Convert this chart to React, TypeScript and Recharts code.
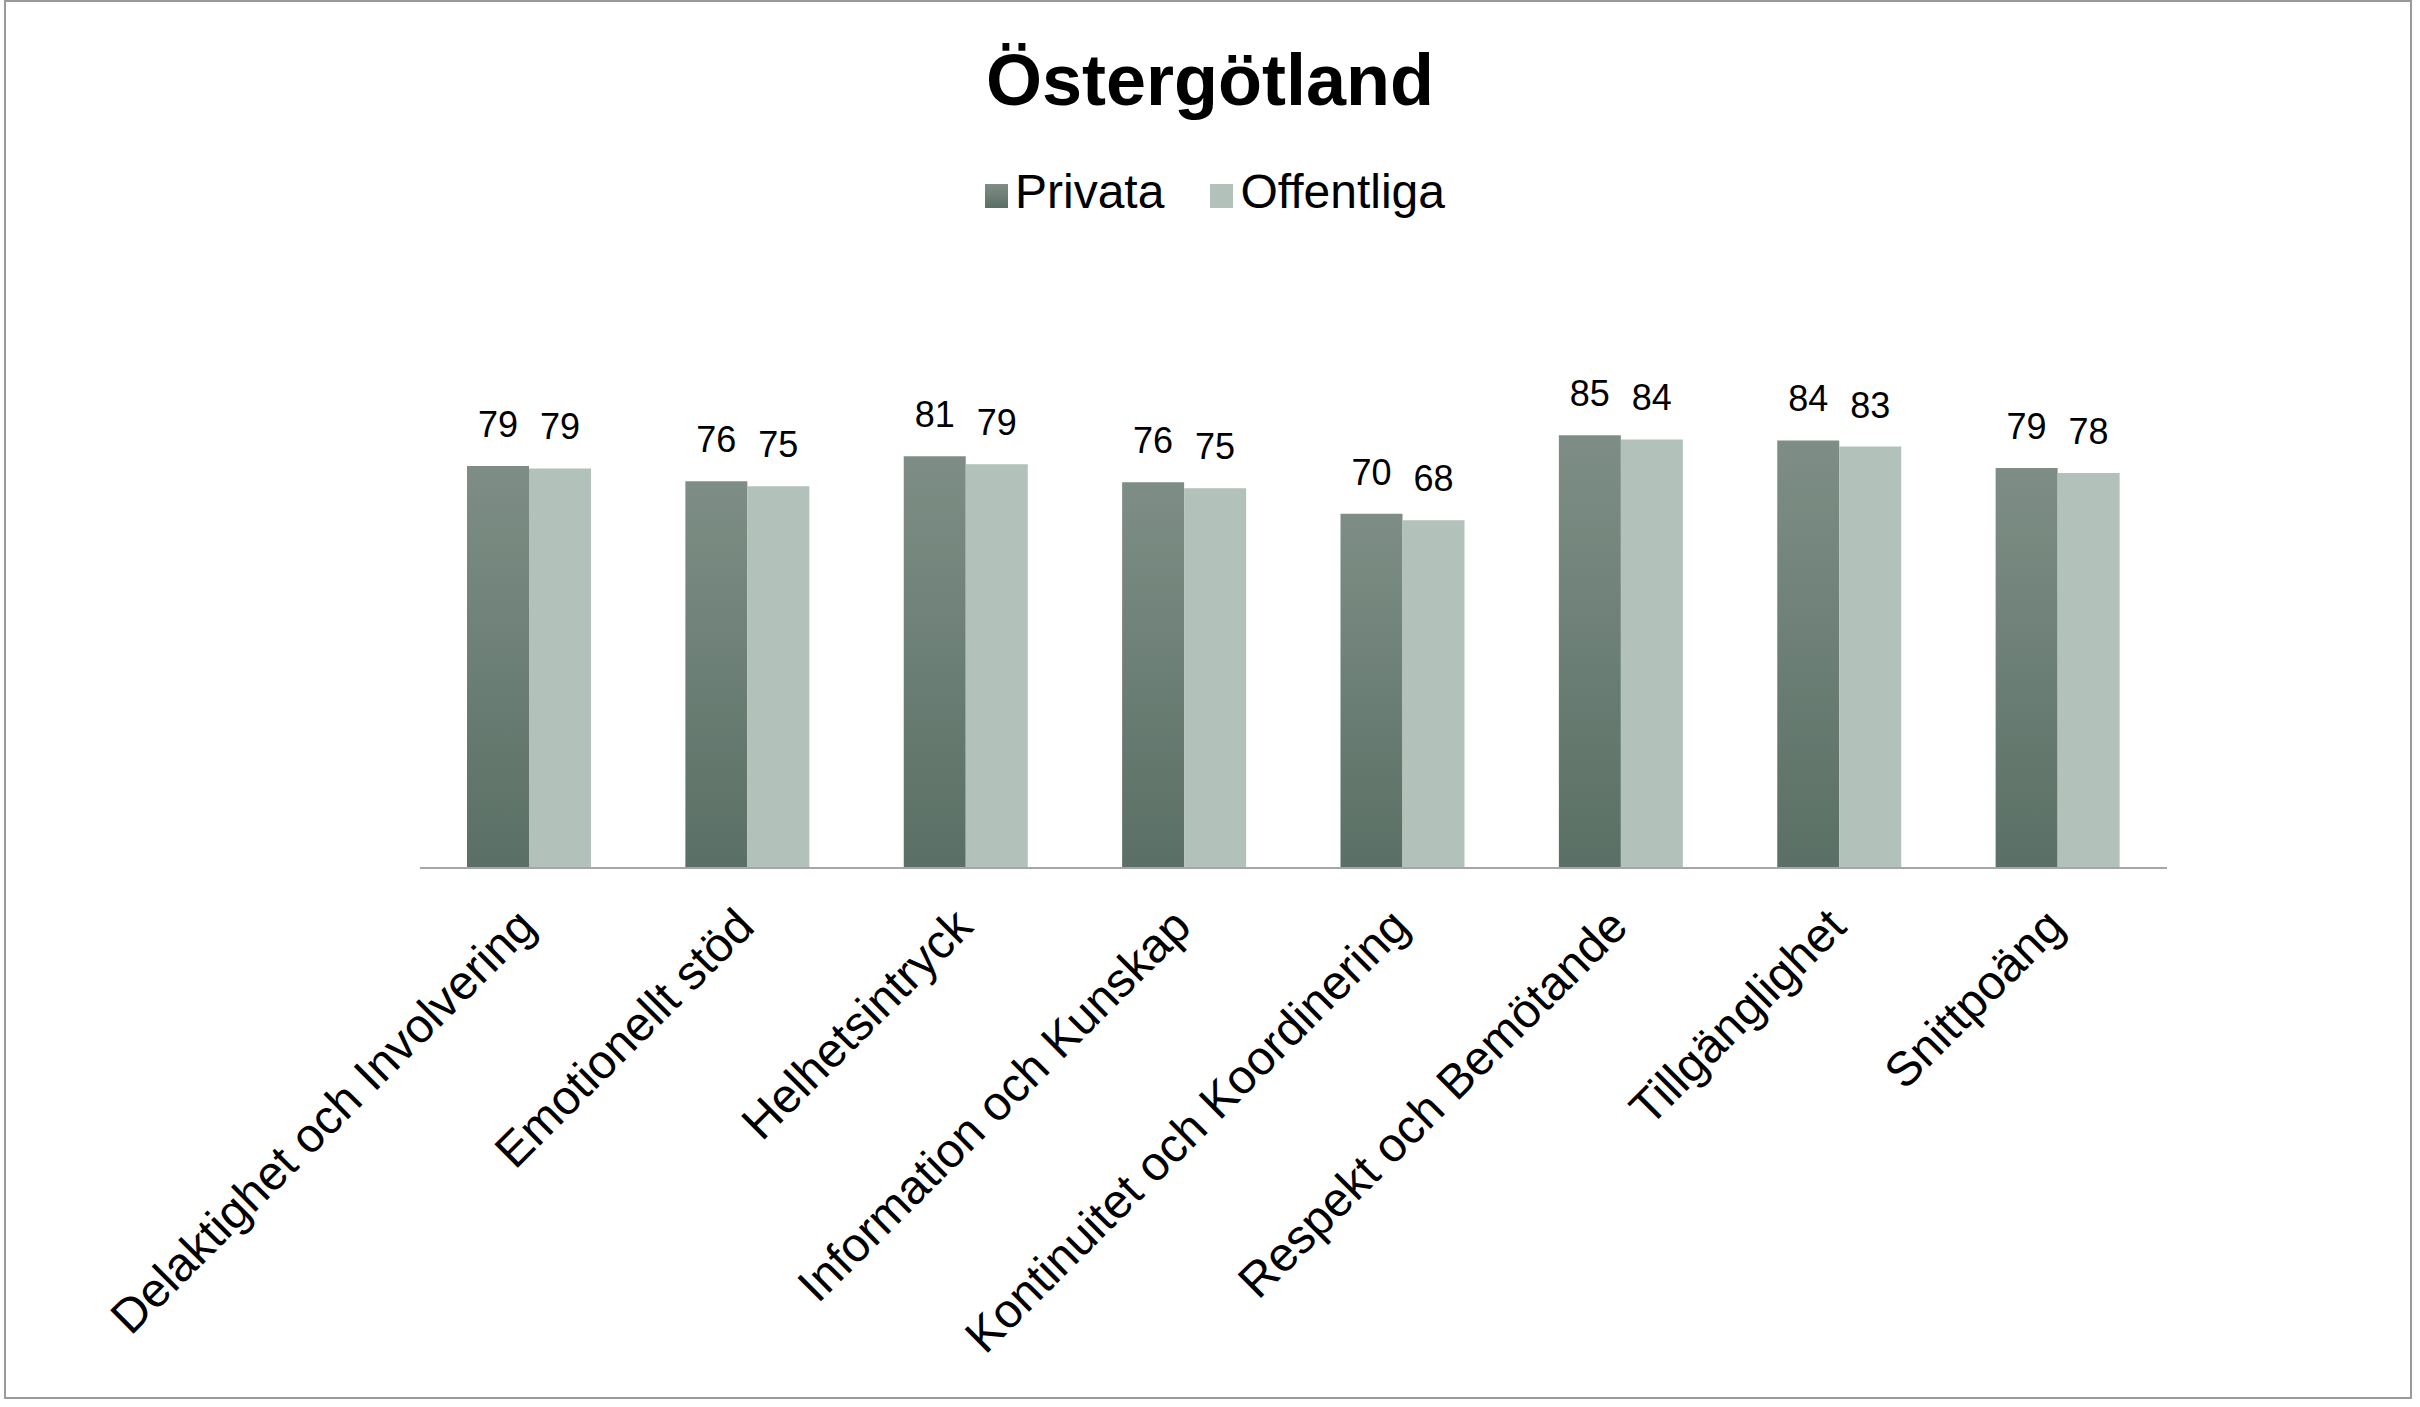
import { BarChart, Bar, XAxis, YAxis, LabelList } from "recharts";

const categories = [
  "Delaktighet och Involvering",
  "Emotionellt stöd",
  "Helhetsintryck",
  "Information och Kunskap",
  "Kontinuitet och Koordinering",
  "Respekt och Bemötande",
  "Tillgänglighet",
  "Snittpoäng",
];
const privata = [79.0, 76.0, 80.9, 75.8, 69.6, 85.0, 84.0, 78.6];
const offentliga = [78.5, 75.0, 79.3, 74.6, 68.3, 84.2, 82.8, 77.6];
const seriesNames = ["Privata", "Offentliga"];

const data = categories.map((name, i) => ({
  name,
  privata: privata[i],
  offentliga: offentliga[i],
}));

const FONT = "'Liberation Sans', Arial, Helvetica, sans-serif";

const CategoryTick = (props: any) => {
  const { x, y, payload } = props;
  const ax = x + 9;
  const ay = y + 61;
  return (
    <text
      x={ax}
      y={ay}
      transform={`rotate(-45, ${ax}, ${ay})`}
      textAnchor="end"
      fontSize={48}
      fontFamily={FONT}
      fill="#000"
    >
      {payload.value}
    </text>
  );
};

const swatches = ["linear-gradient(#7e8e86, #5a6f65)", "#b2c1b9"];

export default function App() {
  return (
    <div
      style={{
        position: "absolute",
        left: 0,
        top: 0,
        width: 2420,
        height: 1407,
        background: "#fff",
        overflow: "hidden",
      }}
    >
      <div
        style={{
          position: "absolute",
          left: 4,
          top: 0,
          width: 2408,
          height: 1399,
          border: "2px solid #9a9a9a",
          boxSizing: "border-box",
        }}
      />
      <div
        style={{
          position: "absolute",
          left: 0,
          top: 44,
          width: 2420,
          textAlign: "center",
          fontFamily: FONT,
          fontWeight: "bold",
          fontSize: 72,
          lineHeight: "72px",
          color: "#000",
        }}
      >
        Östergötland
      </div>
      <div
        style={{
          position: "absolute",
          left: 0,
          top: 168,
          width: 2420,
          display: "flex",
          justifyContent: "center",
          gap: 46,
          fontFamily: FONT,
          fontSize: 48,
          lineHeight: "48px",
          color: "#000",
          paddingLeft: 10,
          boxSizing: "border-box",
        }}
      >
        {seriesNames.map((label, i) => (
          <div key={label} style={{ display: "flex", alignItems: "center" }}>
            <span
              style={{
                display: "inline-block",
                width: 23,
                height: 24,
                background: swatches[i],
                marginRight: 7,
                position: "relative",
                top: 4,
              }}
            />
            <span>{label}</span>
          </div>
        ))}
      </div>
      <div style={{ position: "absolute", left: 0, top: 0 }}>
        <BarChart
          width={2420}
          height={1407}
          data={data}
          margin={{ top: 359, right: 253, left: 420, bottom: 0 }}
          barSize={62}
          barGap={0}
        >
          <defs>
            <linearGradient id="privGrad" x1="0" y1="0" x2="0" y2="1">
              <stop offset="0%" stopColor="#7e8e86" />
              <stop offset="100%" stopColor="#5a6f65" />
            </linearGradient>
          </defs>
          <XAxis
            dataKey="name"
            interval={0}
            height={539}
            tickLine={false}
            tickSize={0}
            tickMargin={0}
            axisLine={{ stroke: "#a6a6a6", strokeWidth: 2 }}
            tick={<CategoryTick />}
          />
          <YAxis hide domain={[0, 100]} />
          <Bar dataKey="privata" name={seriesNames[0]} fill="url(#privGrad)" isAnimationActive={false}>
            <LabelList
              dataKey="privata"
              position="top"
              offset={29}
              fontSize={36}
              fontFamily={FONT}
              fill="#000"
              formatter={(v: any) => Math.round(Number(v))}
            />
          </Bar>
          <Bar dataKey="offentliga" name={seriesNames[1]} fill="#b2c1b9" isAnimationActive={false}>
            <LabelList
              dataKey="offentliga"
              position="top"
              offset={29}
              fontSize={36}
              fontFamily={FONT}
              fill="#000"
              formatter={(v: any) => Math.round(Number(v))}
            />
          </Bar>
        </BarChart>
      </div>
    </div>
  );
}
